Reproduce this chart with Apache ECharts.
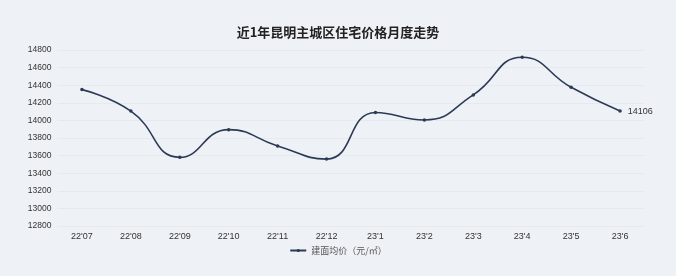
<!DOCTYPE html>
<html>
<head>
<meta charset="utf-8">
<script src="https://cdn.jsdelivr.net/npm/echarts@6/dist/echarts.min.js"></script>
<style>
html,body{margin:0;padding:0;background:#eef1f5;}
#c{width:676px;height:276px;}
</style>
</head>
<body>
<div id="c"></div>
<script>
const titleText = '近1年昆明主城区住宅价格月度走势';
const categories = ["22'07","22'08","22'09","22'10","22'11","22'12","23'1","23'2","23'3","23'4","23'5","23'6"];
const seriesName = '建面均价（元/㎡）';
const priceValues = [14350, 14106, 13580, 13895, 13710, 13560, 14090, 14005, 14290, 14717, 14376, 14106];
const yMin = 12800, yMax = 14800, yStep = 200;

const chart = echarts.init(document.getElementById('c'), null, {renderer: 'canvas'});
const lastIdx = priceValues.length - 1;
chart.setOption({
  backgroundColor: '#eef1f5',
  animation: false,
  title: {
    text: titleText, left: 'center', top: 21,
    textStyle: {fontSize: 13, fontWeight: 'bold', color: '#222', fontFamily: '"Noto Sans CJK SC", sans-serif'}
  },
  legend: {
    bottom: 16, left: 'center', itemWidth: 16, itemHeight: 4, itemGap: 3,
    textStyle: {fontSize: 9, color: '#555', fontFamily: '"Noto Sans CJK SC", sans-serif'},
    data: [seriesName]
  },
  grid: {left: 57.5, right: 31.5, top: 50, bottom: 50},
  xAxis: {
    type: 'category', data: categories, boundaryGap: true,
    axisLine: {show: false}, axisTick: {show: false},
    axisLabel: {fontSize: 9, color: '#333', margin: 6, fontFamily: 'Liberation Sans, Arial, sans-serif'}
  },
  yAxis: {
    type: 'value', min: yMin, max: yMax, interval: yStep,
    axisLine: {show: false}, axisTick: {show: false},
    axisLabel: {fontSize: 8.5, color: '#333', margin: 6, formatter: v => String(v), fontFamily: 'Liberation Sans, Arial, sans-serif'},
    splitLine: {lineStyle: {color: '#e6e9ee', width: 1}}
  },
  series: [{
    name: seriesName, type: 'line', smooth: 0.5,
    data: priceValues.map((v, i) => i === lastIdx ? {value: v, label: {show: true}} : v),
    symbol: 'circle', symbolSize: 3.5,
    lineStyle: {color: '#2c3a55', width: 1.6},
    itemStyle: {color: '#2c3a55'},
    label: {show: false, position: 'right', distance: 6, fontSize: 9, color: '#333', fontFamily: 'Liberation Sans, Arial, sans-serif'}
  }]
});
</script>
</body>
</html>
